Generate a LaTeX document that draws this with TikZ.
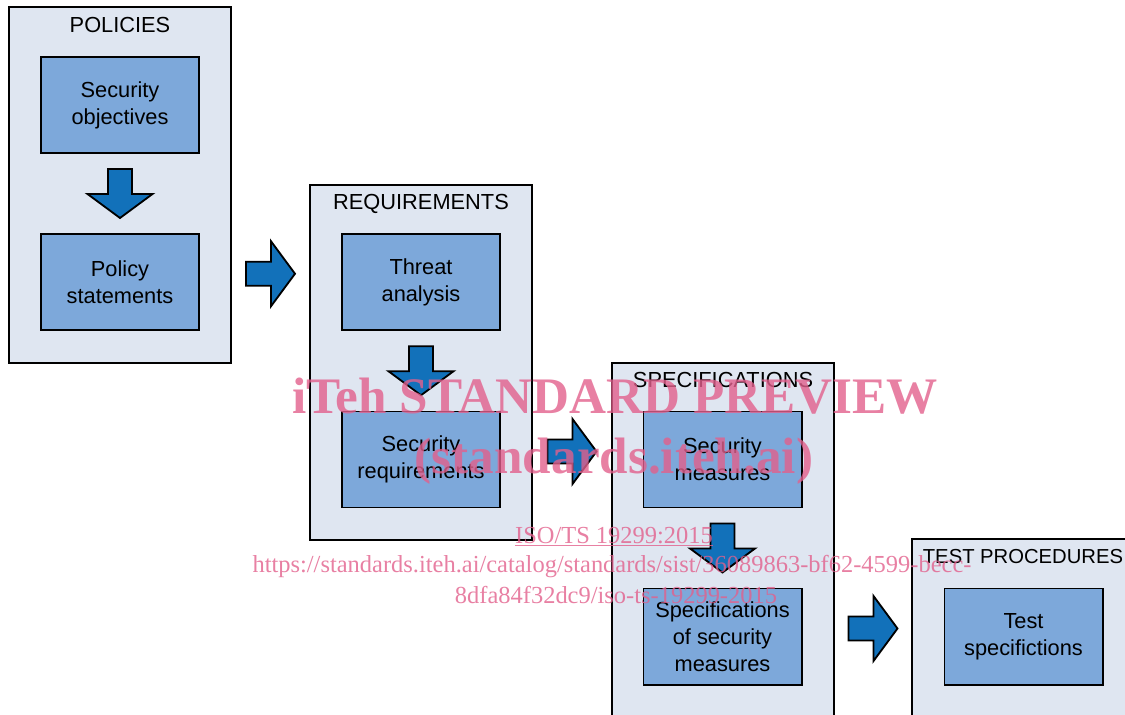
\documentclass[tikz,border=0pt]{standalone}
\usepackage{fontspec}
\setmainfont{Liberation Sans}
\newfontfamily\wmfont{Liberation Serif}
\usetikzlibrary{calc}
\definecolor{stagebg}{RGB}{223,230,241}
\definecolor{itembg}{RGB}{125,168,218}
\definecolor{blockblue}{RGB}{18,113,186}
\definecolor{wmpink}{RGB}{226,96,140}
\tikzset{
  stage/.style={draw, line width=1.4pt, fill=stagebg, minimum width=5.55cm, minimum height=8.875cm},
  stagetitle/.style={anchor=base, font=\fontsize{15.5}{18}\selectfont},
  item/.style={draw, line width=1.4pt, fill=itembg, minimum width=3.95cm, minimum height=2.4cm,
    align=center, font=\fontsize{15.5}{19.2}\selectfont},
  blockfill/.style={draw, line width=1.3pt, fill=blockblue, line join=miter},
  rblock/.pic={\draw[blockfill] (-24.5,-12) -- (0.5,-12) -- (0.5,-32.5) -- (24.5,0)
    -- (0.5,32.5) -- (0.5,12) -- (-24.5,12) -- cycle;},
  dblock/.pic={\draw[blockfill] (-12,-24.5) -- (-12,0.5) -- (-32.5,0.5) -- (0,24.5)
    -- (32.5,0.5) -- (12,0.5) -- (12,-24.5) -- cycle;},
  wmtext/.style={anchor=base, text=wmpink, text opacity=0.8, inner sep=0pt}
}
\begin{document}
\begin{tikzpicture}[x=0.025cm, y=-0.025cm]
    \useasboundingbox (0,0) rectangle (1125,715);
    % stages
    \node[stage] (pol) at (120,185) {};
    \node[stage] (req) at (421,362.5) {};
    \node[stage] (spec) at (723,540.5) {};
    \node[stage] (test) at (1023,716.5) {};
    \node[stagetitle] (poltitle) at ($(pol.north)+(0,26)$) {POLICIES};
    \node[stagetitle] (reqtitle) at ($(req.north)+(0,26)$) {REQUIREMENTS};
    \node[stagetitle] (spectitle) at ($(spec.north)+(0,26)$) {SPECIFICATIONS};
    \node[stagetitle, font=\fontsize{14.4}{18}\selectfont] (testtitle) at ($(test.north)+(0,26)$) {TEST PROCEDURES};
    % items
    \node[item] (obj) at (120,105) {Security\\objectives};
    \node[item] (stmt) at (120,282) {Policy\\statements};
    \node[item] (threat) at (421,282) {Threat\\analysis};
    \node[item] (secreq) at (421,459.5) {Security\\requirements};
    \node[item] (meas) at (722.5,459.5) {Security\\measures};
    \node[item] (specmeas) at (722.5,636.5) {Specifications\\of security\\measures};
    \node[item] (testspec) at (1023.5,636.5) {Test\\specifictions};
    % block arrows
    \pic at ($(obj.south)!0.5!(stmt.north)$) {dblock};
    \pic at ($(threat.south)!0.5!(secreq.north)$) {dblock};
    \pic at ($(meas.south)!0.5!(specmeas.north)$) {dblock};
    \pic at ($(pol.east)!0.5!(req.west)$ |- stmt) {rblock};
    \pic at ($(req.east)!0.5!(spec.west)$ |- secreq) {rblock};
    \pic at ($(spec.east)!0.5!(test.west)$ |- specmeas) {rblock};
    % watermark
    \node[wmtext, font=\wmfont\bfseries\fontsize{36.4}{36}\selectfont] (wm1) at (615,413) {iTeh STANDARD PREVIEW};
    \node[wmtext, font=\wmfont\bfseries\fontsize{36.4}{36}\selectfont] (wm2) at (614,473) {(standards.iteh.ai)};
    \node[wmtext, font=\wmfont\fontsize{17.4}{18}\selectfont] (wm3) at (614,543) {\underline{ISO/TS 19299:2015}};
    \node[wmtext, font=\wmfont\fontsize{17.4}{18}\selectfont] (wm4) at (612,572) {https://standards.iteh.ai/catalog/standards/sist/36089863-bf62-4599-becc-};
    \node[wmtext, font=\wmfont\fontsize{17.4}{18}\selectfont] (wm5) at (616,603) {8dfa84f32dc9/iso-ts-19299-2015};
\end{tikzpicture}
\end{document}
